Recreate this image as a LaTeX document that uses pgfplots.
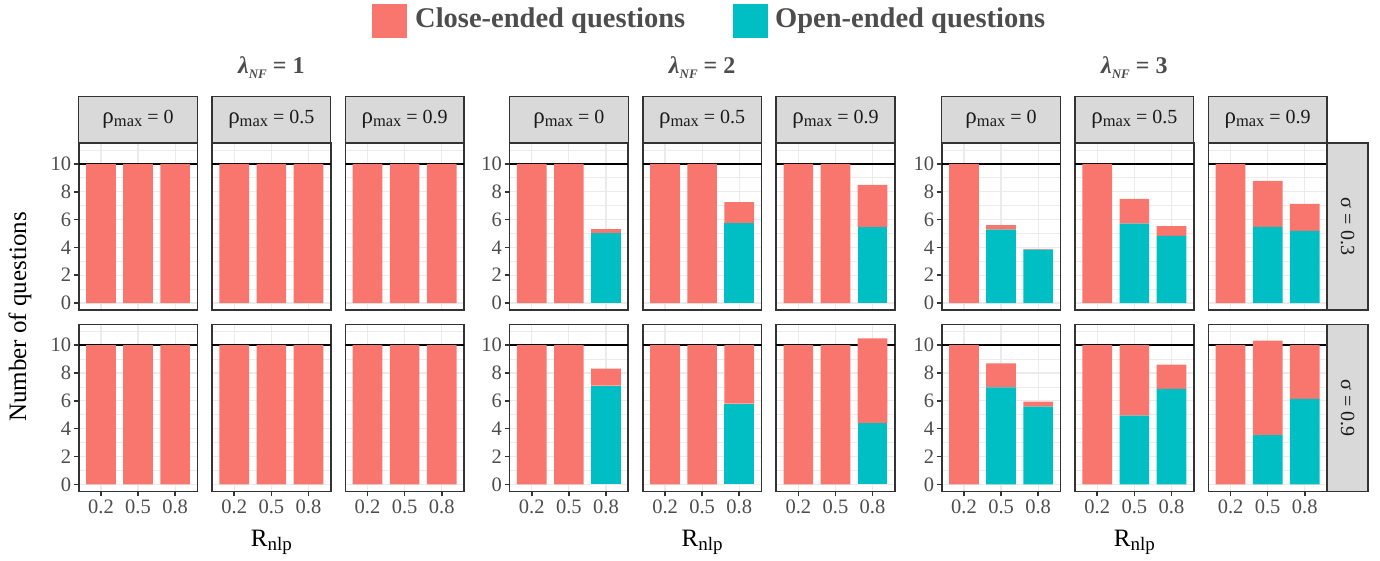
\documentclass[border=0pt]{standalone}
\usepackage{fontspec}
\setmainfont{Liberation Serif}
\usepackage{pgfplots}
\pgfplotsset{compat=1.18}
\definecolor{closec}{HTML}{F8766D}
\definecolor{openc}{HTML}{00BFC4}
\definecolor{stripc}{HTML}{D9D9D9}
\definecolor{bordc}{HTML}{333333}
\definecolor{gridc}{HTML}{EBEBEB}
\definecolor{tickc}{HTML}{4D4D4D}
\definecolor{stript}{HTML}{1A1A1A}
\pgfplotsset{
  set layers,
  panel/.style={
    width=118.7pt, height=167pt, scale only axis,
    ybar stacked, bar width=0.8,
    xmin=0.4, xmax=3.6, ymin=-0.5, ymax=11.5,
    xtick={1,2,3}, xticklabels={0.2,0.5,0.8},
    ytick={0,2,...,10}, minor ytick={1,3,...,11},
    grid=both,
    major grid style={draw=gridc, line width=1.2pt},
    minor grid style={draw=gridc, line width=0.6pt},
    axis line style={draw=bordc, line width=1.6pt},
    tick style={draw=bordc, line width=1.6pt},
    major tick length=5pt, minor tick length=0pt,
    tick align=outside, xtick pos=left, ytick pos=left,
    ticklabel style={font=\fontsize{20.5}{22}\selectfont, text=tickc},
    yticklabel style={inner sep=2.5pt},
    xticklabel style={inner sep=3.5pt},
    /pgf/number format/assume math mode=true,
  },
  notx/.style={xticklabels=\empty, xtick style={/pgfplots/major tick length=0pt}},
  noty/.style={yticklabels=\empty, ytick style={/pgfplots/major tick length=0pt}},
}
\newcommand\panel[6]{%
\begin{axis}[panel, name=#1, at={(#2pt,#3pt)}, anchor=south west, #4]
\addplot[fill=openc, draw=none] coordinates {#5};
\addplot[fill=closec, draw=none] coordinates {#6};
\draw[black, line width=1.6pt] (axis cs:0.4,10) -- (axis cs:3.6,10);
\end{axis}}
\newcommand\topstrip[2]{%
\draw[fill=stripc, draw=bordc, line width=1.4pt] (#1.north west) rectangle ([yshift=46.7pt]#1.north east);
\node[text=stript, font=\fontsize{20}{22}\selectfont] at ([yshift=23.35pt]#1.north) {{\fontsize{23}{24}\selectfont ρ}\raisebox{-0.25ex}{\fontsize{16.5}{18}\selectfont max} = #2};}
\newcommand\rightstrip[2]{%
\draw[fill=stripc, draw=bordc, line width=1.4pt] (#1.north east) rectangle ([xshift=41pt]#1.south east);
\node[text=stript, font=\fontsize{20}{22}\selectfont, rotate=-90] at ([xshift=20.5pt]#1.east) {σ = #2};}
\begin{document}
\begin{tikzpicture}
\path (0,0) rectangle (1380pt,560pt);
% ---- row 1 (sigma = 0.3)
\panel{a1}{78.7}{250}{notx}{(1,0) (2,0) (3,0)}{(1,10) (2,10) (3,10)}
\panel{a2}{212.0}{250}{notx,noty}{(1,0) (2,0) (3,0)}{(1,10) (2,10) (3,10)}
\panel{a3}{345.3}{250}{notx,noty}{(1,0) (2,0) (3,0)}{(1,10) (2,10) (3,10)}
\panel{a4}{509.5}{250}{notx}{(1,0) (2,0) (3,5.02)}{(1,10) (2,10) (3,0.29)}
\panel{a5}{642.8}{250}{notx,noty}{(1,0) (2,0) (3,5.75)}{(1,10) (2,10) (3,1.50)}
\panel{a6}{776.1}{250}{notx,noty}{(1,0) (2,0) (3,5.48)}{(1,10) (2,10) (3,3.01)}
\panel{a7}{941.7}{250}{notx}{(1,0) (2,5.27) (3,3.83)}{(1,10) (2,0.33) (3,0.07)}
\panel{a8}{1075.0}{250}{notx,noty}{(1,0) (2,5.70) (3,4.83)}{(1,10) (2,1.78) (3,0.70)}
\panel{a9}{1208.3}{250}{notx,noty}{(1,0) (2,5.47) (3,5.18)}{(1,10) (2,3.31) (3,1.94)}
% ---- row 2 (sigma = 0.9)
\panel{b1}{78.7}{68.7}{}{(1,0) (2,0) (3,0)}{(1,10) (2,10) (3,10)}
\panel{b2}{212.0}{68.7}{noty}{(1,0) (2,0) (3,0)}{(1,10) (2,10) (3,10)}
\panel{b3}{345.3}{68.7}{noty}{(1,0) (2,0) (3,0)}{(1,10) (2,10) (3,10)}
\panel{b4}{509.5}{68.7}{}{(1,0) (2,0) (3,7.10)}{(1,10) (2,10) (3,1.21)}
\panel{b5}{642.8}{68.7}{noty}{(1,0) (2,0) (3,5.80)}{(1,10) (2,10) (3,4.20)}
\panel{b6}{776.1}{68.7}{noty}{(1,0) (2,0) (3,4.40)}{(1,10) (2,10) (3,6.08)}
\panel{b7}{941.7}{68.7}{}{(1,0) (2,6.96) (3,5.58)}{(1,10) (2,1.74) (3,0.36)}
\panel{b8}{1075.0}{68.7}{noty}{(1,0) (2,4.93) (3,6.86)}{(1,10) (2,5.07) (3,1.74)}
\panel{b9}{1208.3}{68.7}{noty}{(1,0) (2,3.53) (3,6.14)}{(1,10) (2,6.79) (3,3.86)}
% ---- strips
\topstrip{a1}{0}\topstrip{a2}{0.5}\topstrip{a3}{0.9}
\topstrip{a4}{0}\topstrip{a5}{0.5}\topstrip{a6}{0.9}
\topstrip{a7}{0}\topstrip{a8}{0.5}\topstrip{a9}{0.9}
\rightstrip{a9}{0.3}
\rightstrip{b9}{0.9}
% ---- group titles
\foreach \cx/\v in {271.35/1, 702.15/2, 1134.35/3}{
  \node[text=tickc, font=\fontsize{24}{26}\selectfont\bfseries] at (\cx pt, 492pt)
    {\textit{λ}\raisebox{-0.45ex}{\fontsize{13}{14}\selectfont\bfseries\itshape NF} = \v};
  \node[text=black, font=\fontsize{25}{27}\selectfont] at (\cx pt, 18pt)
    {R\raisebox{-0.35ex}{\fontsize{19}{20}\selectfont nlp}};
}
% ---- y label
\node[rotate=90, font=\fontsize{25}{27}\selectfont] at (20pt, 243pt) {Number of questions};
% ---- legend
\fill[closec] (372pt,522.3pt) rectangle (407pt,556pt);
\node[anchor=west, inner sep=0pt, text=tickc, font=\fontsize{28.5}{30}\selectfont\bfseries] at (415pt,539pt) {Close-ended questions};
\fill[openc] (733pt,522.3pt) rectangle (768pt,556pt);
\node[anchor=west, inner sep=0pt, text=tickc, font=\fontsize{28.5}{30}\selectfont\bfseries] at (775pt,539pt) {Open-ended questions};
\end{tikzpicture}
\end{document}
